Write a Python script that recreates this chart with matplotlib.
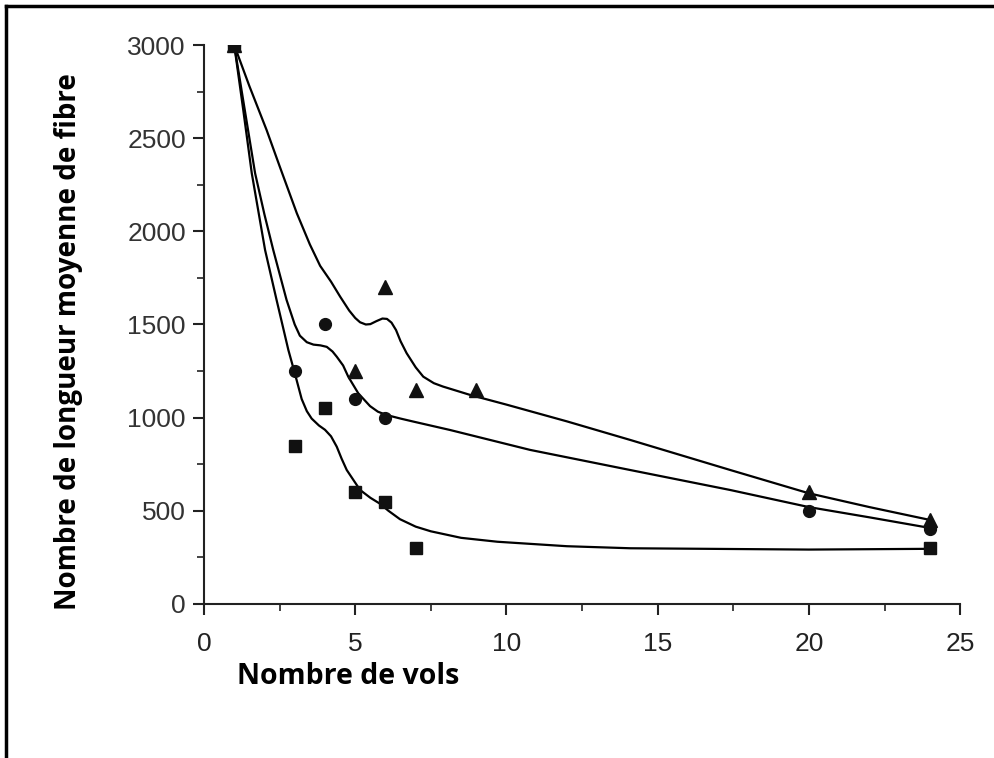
import matplotlib.pyplot as plt
from matplotlib.lines import Line2D
from matplotlib.ticker import MultipleLocator

# ======= points mesurés ========
tri_x = [1, 5, 6, 7, 9, 20, 24]
tri_y = [3000, 1250, 1700, 1150, 1150, 600, 450]

circ_x = [1, 3, 4, 5, 6, 20, 24]
circ_y = [3000, 1250, 1500, 1100, 1000, 500, 400]

sq_x = [1, 3, 4, 5, 6, 7, 24]
sq_y = [3000, 850, 1050, 600, 550, 300, 300]

# ======= courbes lissées =============================
fit_tri_x = [1, 1.5, 2.07, 2.5, 3.07, 3.5, 3.84, 4.2, 4.5, 4.8, 5.0, 5.16, 5.35, 5.5, 5.7, 5.9,
             6.05, 6.2, 6.35, 6.5, 6.7, 7.0, 7.25, 7.6, 7.9, 8.8, 10, 12, 14.1, 17.4, 20, 22, 24]
fit_tri_y = [3000, 2780, 2544, 2350, 2097, 1930, 1815, 1730, 1650, 1575, 1535, 1512, 1500, 1502, 1518, 1532,
             1530, 1510, 1470, 1410, 1346, 1270, 1220, 1185, 1167, 1122, 1070, 980, 880, 719, 594, 520, 451]

fit_circ_x = [1, 1.3, 1.69, 2.0, 2.29, 2.73, 3.0, 3.17, 3.4, 3.62, 3.85, 4.06, 4.25, 4.39, 4.6,
              4.77, 5.1, 5.49, 5.75, 6.04, 6.5, 6.92, 8.13, 10.78, 14.09, 17.39, 20, 22, 24]
fit_circ_y = [3000, 2700, 2312, 2090, 1900, 1632, 1500, 1440, 1405, 1392, 1388, 1380, 1355, 1327, 1280,
              1220, 1131, 1062, 1032, 1014, 995, 979, 934, 827, 719, 612, 520, 465, 408]

fit_sq_x = [1, 1.3, 1.58, 2.02, 2.4, 2.79, 3.0, 3.23, 3.4, 3.56, 3.8, 4.0, 4.2, 4.39, 4.55,
            4.72, 5.16, 5.5, 5.82, 6.1, 6.48, 7.0, 7.5, 8.5, 9.7, 12, 14.1, 20, 24]
fit_sq_y = [3000, 2650, 2312, 1900, 1632, 1363, 1240, 1100, 1035, 995, 958, 935, 900, 844, 780,
            719, 612, 570, 538, 500, 455, 415, 390, 355, 334, 310, 299, 292, 296]

x_ticks = [0, 5, 10, 15, 20, 25]
y_ticks = [0, 500, 1000, 1500, 2000, 2500, 3000]
# ================================

plt.rcParams['font.family'] = ['Liberation Sans', 'DejaVu Sans']

fig = plt.figure(figsize=(9.95, 7.58), dpi=100)
ax = fig.add_axes([0.205, 0.2032, 0.76, 0.7374])

ax.plot(fit_tri_x, fit_tri_y, color='black', lw=1.6, solid_joinstyle='round')
ax.plot(fit_circ_x, fit_circ_y, color='black', lw=1.6, solid_joinstyle='round')
ax.plot(fit_sq_x, fit_sq_y, color='black', lw=1.6, solid_joinstyle='round')

ax.plot(tri_x, tri_y, '^', color='#111111', ms=9.5, ls='none')
ax.plot(circ_x, circ_y, 'o', color='#111111', ms=8.5, ls='none')
ax.plot(sq_x, sq_y, 's', color='#111111', ms=8, ls='none')

ax.set_xlim(0, 25)
ax.set_ylim(0, 3000)
ax.set_xticks(x_ticks)
ax.set_yticks(y_ticks)
ax.xaxis.set_minor_locator(MultipleLocator(2.5))
ax.yaxis.set_minor_locator(MultipleLocator(250))

for side in ['top', 'right']:
    ax.spines[side].set_visible(False)
for side in ['left', 'bottom']:
    ax.spines[side].set_linewidth(1.5)
    ax.spines[side].set_color('#222222')

ax.tick_params(which='major', direction='out', length=8, width=1.5, color='#222222')
ax.tick_params(which='minor', direction='out', length=5, width=1.2, color='#222222')
ax.tick_params(axis='y', labelsize=19, labelcolor='#333333', pad=5)
ax.tick_params(axis='x', labelsize=19, labelcolor='#222222', pad=12)

fig.text(0.238, 0.107, 'Nombre de vols', fontsize=20.5, fontweight='bold',
         family=['Open Sans', 'DejaVu Sans'], ha='left', va='center')
fig.text(0.069, 0.55, 'Nombre de longueur moyenne de fibre', fontsize=20,
         fontweight='bold', family=['Open Sans', 'DejaVu Sans'], rotation=90,
         ha='center', va='center')

# cadre (haut et gauche seulement)
fig.add_artist(Line2D([0.006, 1.0], [0.9915, 0.9915], transform=fig.transFigure,
                      color='black', lw=2.5))
fig.add_artist(Line2D([0.006, 0.006], [0.0, 0.9915], transform=fig.transFigure,
                      color='black', lw=2.5))

fig.savefig('out.png', dpi=100)
